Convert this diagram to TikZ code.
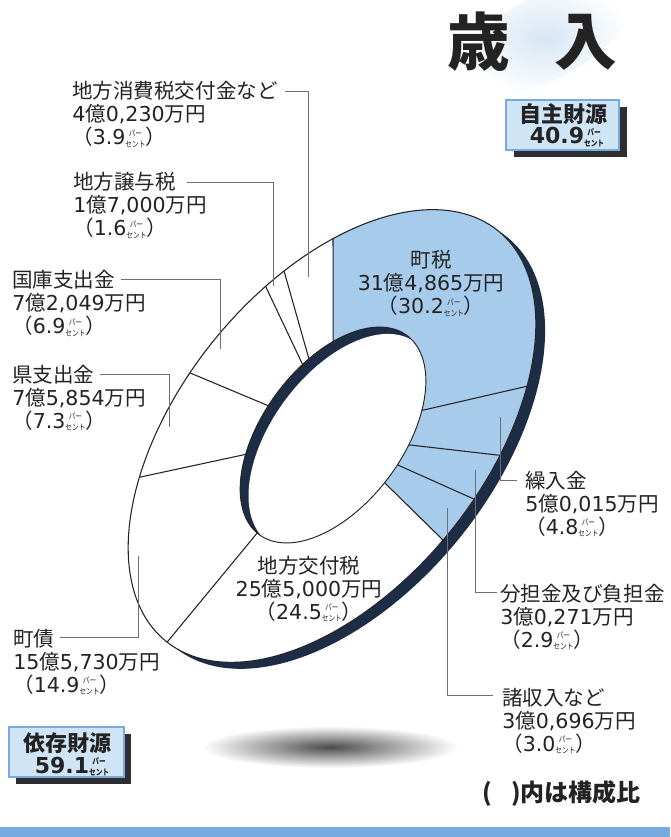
\documentclass[tikz,border=0pt]{standalone}
\usepackage{fontspec}
\setmainfont{Noto Sans CJK JP}
\newfontfamily\numfont{DejaVu Sans}
\definecolor{segblue}{RGB}{166,203,235}
\definecolor{rimc}{RGB}{30,45,70}
\definecolor{linec}{RGB}{35,35,40}
\definecolor{leadc}{RGB}{110,110,115}
\definecolor{boxfill}{RGB}{207,228,245}
\definecolor{boxline}{RGB}{120,170,220}
\definecolor{shadowc}{RGB}{45,45,50}
\definecolor{blobc}{RGB}{214,230,244}
\definecolor{stripe}{RGB}{120,172,225}
\definecolor{txt}{RGB}{35,35,35}
\newcommand\nm[1]{{\numfont #1}}
\newcommand\pct{\raisebox{-1.8pt}{\scalebox{0.82}[1]{\fontsize{6.1pt}{7.9pt}\selectfont\begin{tabular}[b]{@{}c@{}}パー\\セント\end{tabular}}}}
\newcommand\lblfont{\fontsize{15.4pt}{17.25pt}\selectfont}
\tikzset{
  lbl/.style={font=\lblfont, align=left, anchor=base west, inner sep=0pt, text=txt},
  clbl/.style={font=\lblfont, align=center, anchor=base, inner sep=0pt, text=txt},
  seg/.style={draw=linec, line width=0.8pt},
  leader/.style={draw=leadc, line width=0.7pt},
  boxtxt/.style={font=\fontsize{16.5pt}{18pt}\selectfont\bfseries, anchor=base, inner sep=0pt, text=txt},
  titletxt/.style={font=\fontsize{47pt}{47pt}\selectfont\bfseries, inner sep=0pt, text=txt},
}
\begin{document}
\begin{tikzpicture}[x=0.75pt,y=-0.75pt]
\useasboundingbox (0,0) rectangle (670,837);
\fill[white] (0,0) rectangle (670,837);
% soft blobs
\begin{scope}[shift={(545,38)},rotate=28]
  \shade[inner color=blobc, outer color=white] plot[domain=0:360,samples=90] ({95*cos(\x)},{42*sin(\x)}) -- cycle;
\end{scope}
\shade[inner color=black!70, outer color=white] plot[domain=0:360,samples=120] ({330+128*cos(\x)},{747+21*sin(\x)}) -- cycle;

% ring: outer
\begin{scope}[shift={(332,436)},rotate=51]
  \fill[rimc] plot[domain=0:360,samples=180] ({0.8+264*cos(\x)},{11.3+152*sin(\x)}) -- cycle;
  \fill[white] plot[domain=0:360,samples=180] ({264*cos(\x)},{152*sin(\x)}) -- cycle;
  \coordinate (o1) at ({264*cos(-54.3)},{152*sin(-54.3)});
  \coordinate (o2) at ({264*cos(52.3)},{152*sin(52.3)});
  \coordinate (o3) at ({264*cos(69.9)},{152*sin(69.9)});
  \coordinate (o4) at ({264*cos(81.2)},{152*sin(81.2)});
  \coordinate (o5) at ({264*cos(92.4)},{152*sin(92.4)});
  \coordinate (o6) at ({264*cos(179.4)},{152*sin(179.4)});
  \coordinate (o7) at ({264*cos(234.5)},{152*sin(234.5)});
  \coordinate (o8) at ({264*cos(261.2)},{152*sin(261.2)});
  \coordinate (o9) at ({264*cos(286.4)},{152*sin(286.4)});
  \coordinate (o10) at ({264*cos(291.8)},{152*sin(291.8)});
\end{scope}
\begin{scope}[shift={(333,435)},rotate=53.4]
  \coordinate (i1) at ({124*cos(-52.7)},{70*sin(-52.7)});
  \coordinate (i2) at ({124*cos(54.1)},{70*sin(54.1)});
  \coordinate (i3) at ({124*cos(72.5)},{70*sin(72.5)});
  \coordinate (i4) at ({124*cos(83.3)},{70*sin(83.3)});
  \coordinate (i5) at ({124*cos(93.5)},{70*sin(93.5)});
  \coordinate (i6) at ({124*cos(182)},{70*sin(182)});
  \coordinate (i7) at ({124*cos(236.9)},{70*sin(236.9)});
  \coordinate (i8) at ({124*cos(263)},{70*sin(263)});
  \coordinate (i9) at ({124*cos(288.1)},{70*sin(288.1)});
  \coordinate (i10) at ({124*cos(292.2)},{70*sin(292.2)});
\end{scope}
\begin{scope}[shift={(332,436)},rotate=51]
  \fill[segblue] plot[domain=-54.3:92.4,samples=90] ({264*cos(\x)},{152*sin(\x)}) -- (i5) -- (i1) -- cycle;
  \draw[linec, line width=0.8pt] plot[domain=0:360,samples=180] ({264*cos(\x)},{152*sin(\x)}) -- cycle;
\end{scope}
\foreach \k in {1,...,10} { \draw[seg] (i\k) -- (o\k); }
% hole
\begin{scope}[shift={(333,435)},rotate=53.4]
  \fill[rimc] plot[domain=0:360,samples=150] ({124*cos(\x)},{70*sin(\x)}) -- cycle;
  \begin{scope}
    \clip plot[domain=0:360,samples=150] ({124*cos(\x)},{70*sin(\x)}) -- cycle;
    \fill[white] plot[domain=0:360,samples=150] ({-0.5+124*cos(\x)},{10.8+70*sin(\x)}) -- cycle;
  \end{scope}
  \draw[linec, line width=0.7pt] plot[domain=0:360,samples=150] ({124*cos(\x)},{70*sin(\x)}) -- cycle;
\end{scope}

% labels (anchor = baseline of last line)
\node[lbl] (l1) at (72,145) {地方消費税交付金など\\\nm{4}億\nm{0,230}万円\\（\nm{3.9}\pct）};
\node[lbl] (l2) at (73,236) {地方譲与税\\\nm{1}億\nm{7,000}万円\\（\nm{1.6}\pct）};
\node[lbl] (l3) at (12,334) {国庫支出金\\\nm{7}億\nm{2,049}万円\\（\nm{6.9}\pct）};
\node[lbl] (l4) at (12,428) {県支出金\\\nm{7}億\nm{5,854}万円\\（\nm{7.3}\pct）};
\node[lbl] (l5) at (13,692) {町債\\\nm{15}億\nm{5,730}万円\\（\nm{14.9}\pct）};
\node[lbl] (l6) at (525,534) {繰入金\\\nm{5}億\nm{0,015}万円\\（\nm{4.8}\pct）};
\node[lbl] (l7) at (500,647) {分担金及び負担金\\\nm{3}億\nm{0,271}万円\\（\nm{2.9}\pct）};
\node[lbl] (l8) at (502,751) {諸収入など\\\nm{3}億\nm{0,696}万円\\（\nm{3.0}\pct）};
\node[clbl] (c1) at (431,314) {町税\\\nm{31}億\nm{4,865}万円\\（\nm{30.2}\pct）};
\node[clbl] (c2) at (309,619) {地方交付税\\\nm{25}億\nm{5,000}万円\\（\nm{24.5}\pct）};

% leaders
\coordinate (a1) at (285,91);  \coordinate (e1) at (308,277);
\coordinate (a2) at (187,182); \coordinate (e2) at (273,286);
\coordinate (a3) at (121,279); \coordinate (e3) at (220,349);
\coordinate (a4) at (100,374); \coordinate (e4) at (169,427);
\coordinate (a5) at (60,637);  \coordinate (e5) at (138,556);
\coordinate (a6) at (517,480); \coordinate (e6) at (500,417);
\coordinate (a7) at (497,592); \coordinate (e7) at (475,470);
\coordinate (a8) at (493,695); \coordinate (e8) at (447,508);
\foreach \k in {1,...,8} { \draw[leader] (a\k) -| (e\k); }

% source boxes
\fill[shadowc] (514,107) rectangle (627,157);
\filldraw[fill=boxfill, draw=boxline, line width=0.8pt] (506,100) rectangle (619,150);
\node[boxtxt] (j1) at (563,123) {自主財源};
\node[boxtxt] (j2) at (567,144) {{\numfont\bfseries 40.9}\pct};
\fill[shadowc] (16,734) rectangle (131,784);
\filldraw[fill=boxfill, draw=boxline, line width=0.8pt] (9,727) rectangle (124,777);
\node[boxtxt] (d1) at (67,751) {依存財源};
\node[boxtxt] (d2) at (72,773) {{\numfont\bfseries 59.1}\pct};

% title
\node[titletxt] (t1) at (479,42) {歳};
\node[titletxt] (t2) at (586,42) {入};

% note
\node[font=\fontsize{18pt}{18pt}\selectfont\bfseries, anchor=east, inner sep=0pt, text=txt] (note) at (641,793) {(\hspace{0.8em})内は構成比};

% bottom stripe
\fill[stripe] (0,827) rectangle (670,837);
\end{tikzpicture}
\end{document}
